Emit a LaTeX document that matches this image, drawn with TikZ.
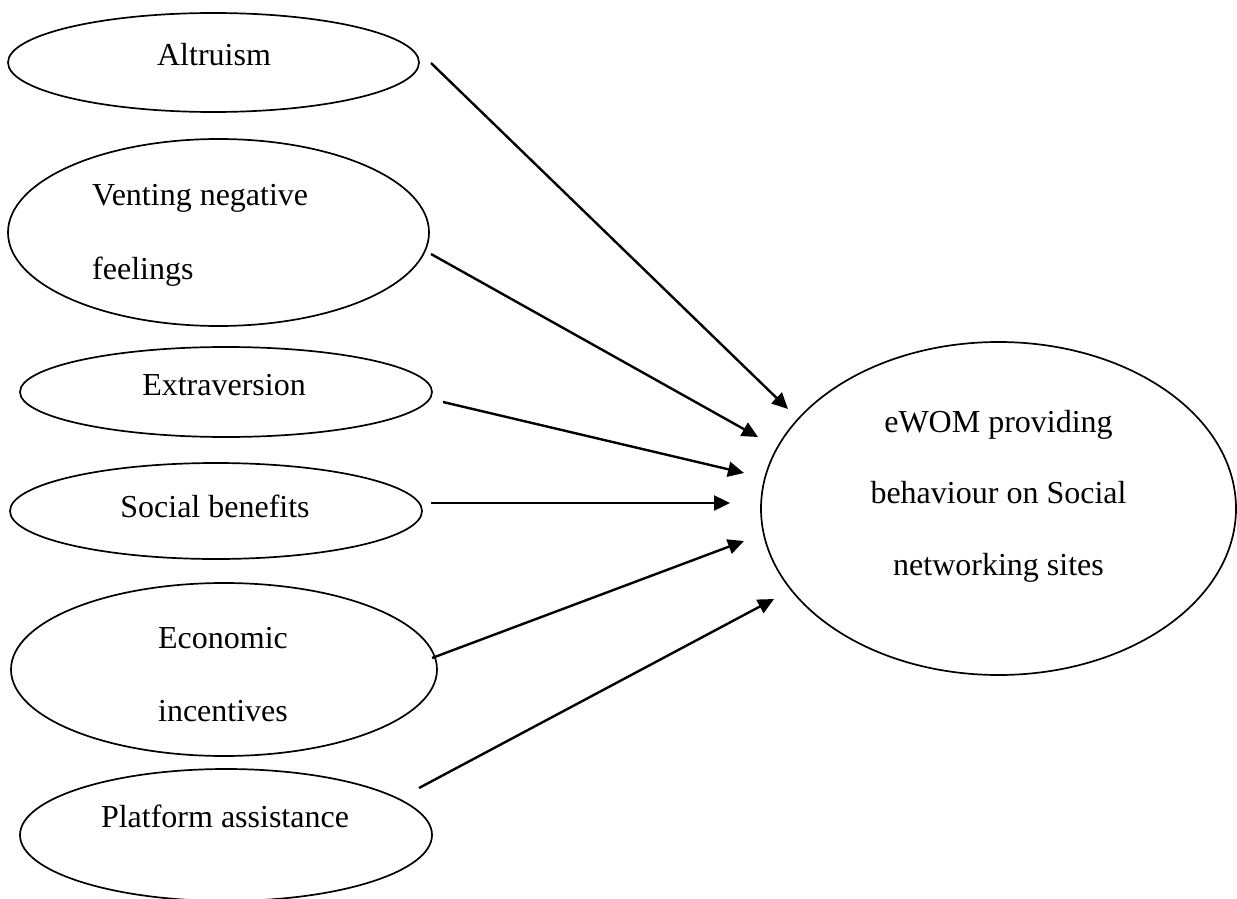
\documentclass[tikz,border=0pt]{standalone}
\usepackage{fontspec}
\setmainfont{Liberation Serif}
\usetikzlibrary{arrows.meta,shapes.geometric}
\begin{document}
\begin{tikzpicture}[x=1pt,y=-1pt,
  oval/.style={draw, ellipse, line width=1.7pt, inner sep=0pt},
  lbl/.style={font=\fontsize{32}{38}\selectfont, inner sep=0pt, anchor=base},
  link/.style={line width=2.4pt, -{Triangle[length=16pt,width=15pt]}}]
\useasboundingbox (0,0) rectangle (1237,899);
\clip (0,0) rectangle (1237,899);
% ellipses
\node[oval, minimum width=411pt, minimum height=99pt] (alt) at (213.5,62.5) {};
\node[oval, minimum width=421pt, minimum height=187pt] (vent) at (218.5,232.5) {};
\node[oval, minimum width=412pt, minimum height=90pt] (extra) at (226,392) {};
\node[oval, minimum width=412pt, minimum height=96pt] (social) at (216,511) {};
\node[oval, minimum width=426pt, minimum height=173pt] (econ) at (224,669.5) {};
\node[oval, minimum width=412pt, minimum height=132pt] (plat) at (226,835) {};
\node[oval, minimum width=475pt, minimum height=333pt] (ewom) at (998.5,508.5) {};
% texts
\node[lbl] (altT) at (214,66) {Altruism};
\node[lbl, anchor=base west] (ventA) at (92,205) {Venting negative};
\node[lbl, anchor=base west] (ventB) at (92,279) {feelings};
\node[lbl] (extraT) at (224,395) {Extraversion};
\node[lbl] (socialT) at (215,517) {Social benefits};
\node[lbl] (econA) at (223,648) {Economic};
\node[lbl] (econB) at (223,721) {incentives};
\node[lbl] (platT) at (225,827) {Platform assistance};
\node[lbl] (ewomA) at (998.5,432) {eWOM providing};
\node[lbl] (ewomB) at (998.5,503) {behaviour on Social};
\node[lbl] (ewomC) at (998.5,575) {networking sites};
% connector ends
\coordinate (s1) at (431,63);  \coordinate (t1) at (788,409);
\coordinate (s2) at (431,254); \coordinate (t2) at (758,437);
\coordinate (s3) at (443,402); \coordinate (t3) at (744,473);
\coordinate (s4) at (431,503); \coordinate (t4) at (730,503);
\coordinate (s5) at (432,658); \coordinate (t5) at (744,541);
\coordinate (s6) at (419,788); \coordinate (t6) at (774,599);
\draw[link] (s1) -- (t1);
\draw[link] (s2) -- (t2);
\draw[link] (s3) -- (t3);
\draw[link] (s4) -- (t4);
\draw[link] (s5) -- (t5);
\draw[link] (s6) -- (t6);
\end{tikzpicture}
\end{document}
